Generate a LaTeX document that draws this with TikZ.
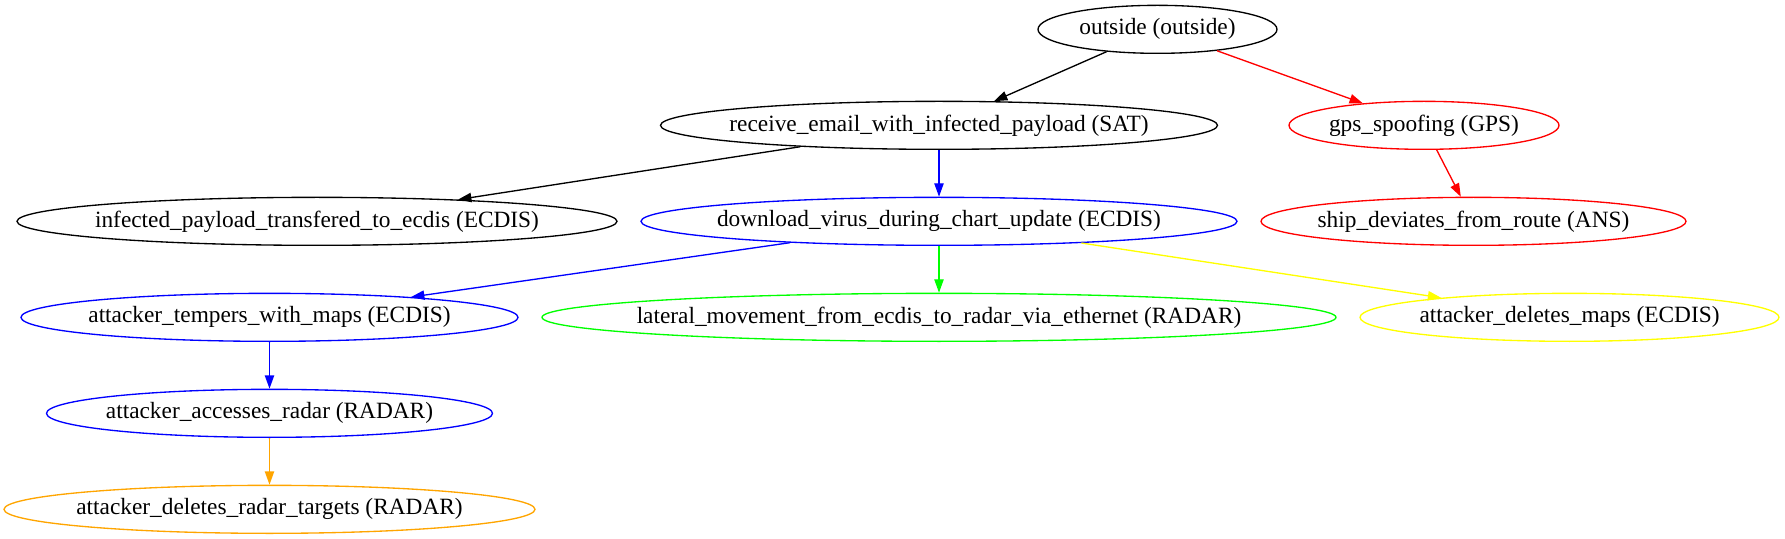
\documentclass[tikz,border=0pt]{standalone}
\usepackage{fontspec}
\setmainfont{Liberation Serif}
\usetikzlibrary{shapes.geometric, arrows.meta}

\definecolor{gvgreen}{RGB}{0,255,0}
\definecolor{gvyellow}{RGB}{255,255,0}
\definecolor{gvorange}{RGB}{255,165,0}

% label centred on the node, so the ellipse keeps its own width
\newcommand{\lbl}[1]{\makebox[0pt]{#1}}

\begin{document}
\begin{tikzpicture}[
         x=0.75pt, y=-0.75pt,
         event/.style={ellipse, draw, line width=1pt, inner sep=0pt, minimum height=36pt,
                       font=\fontsize{17.5}{21}\selectfont},
         link/.style={-{Triangle[length=10pt, width=7pt]}, line width=1pt}
      ]
         \useasboundingbox (0,0) rectangle (1785,539);

         % Nodes for events, one row per rank
         \node[event, minimum width=179.25pt] (outside) at (1157.5,29.33) {\lbl{outside (outside)}};

         \node[event, minimum width=417.75pt] (receive) at (939,125.33) {\lbl{receive\_email\_with\_infected\_payload (SAT)}};
         \node[event, draw=red, minimum width=202.5pt] (gps) at (1424,125.33) {\lbl{gps\_spoofing (GPS)}};

         \node[event, minimum width=450pt] (infected) at (317,221.33) {\lbl{infected\_payload\_transfered\_to\_ecdis (ECDIS)}};
         \node[event, draw=blue, minimum width=447pt] (download) at (939,221.33) {\lbl{download\_virus\_during\_chart\_update (ECDIS)}};
         \node[event, draw=red, minimum width=318.75pt] (ship) at (1473.5,221.33) {\lbl{ship\_deviates\_from\_route (ANS)}};

         \node[event, draw=blue, minimum width=372.75pt] (tempers) at (269.5,317.33) {\lbl{attacker\_tempers\_with\_maps (ECDIS)}};
         \node[event, draw=gvgreen, minimum width=595.5pt] (lateral) at (939,317.33) {\lbl{lateral\_movement\_from\_ecdis\_to\_radar\_via\_ethernet (RADAR)}};
         \node[event, draw=gvyellow, minimum width=314.25pt] (delmaps) at (1569.5,317.33) {\lbl{attacker\_deletes\_maps (ECDIS)}};

         \node[event, draw=blue, minimum width=334.5pt] (accesses) at (269.5,413.33) {\lbl{attacker\_accesses\_radar (RADAR)}};

         \node[event, draw=gvorange, minimum width=398.25pt] (delradar) at (269.5,509.33) {\lbl{attacker\_deletes\_radar\_targets (RADAR)}};

         % Arrows, coloured like the attack path they belong to
         \draw[link] (outside) -- (receive);
         \draw[link, red] (outside) -- (gps);
         \draw[link] (receive) -- (infected);
         \draw[link, blue] (receive) -- (download);
         \draw[link, red] (gps) -- (ship);
         \draw[link, blue] (download) -- (tempers);
         \draw[link, gvgreen] (download) -- (lateral);
         \draw[link, gvyellow] (download) -- (delmaps);
         \draw[link, blue] (tempers) -- (accesses);
         \draw[link, gvorange] (accesses) -- (delradar);
      \end{tikzpicture}
\end{document}
